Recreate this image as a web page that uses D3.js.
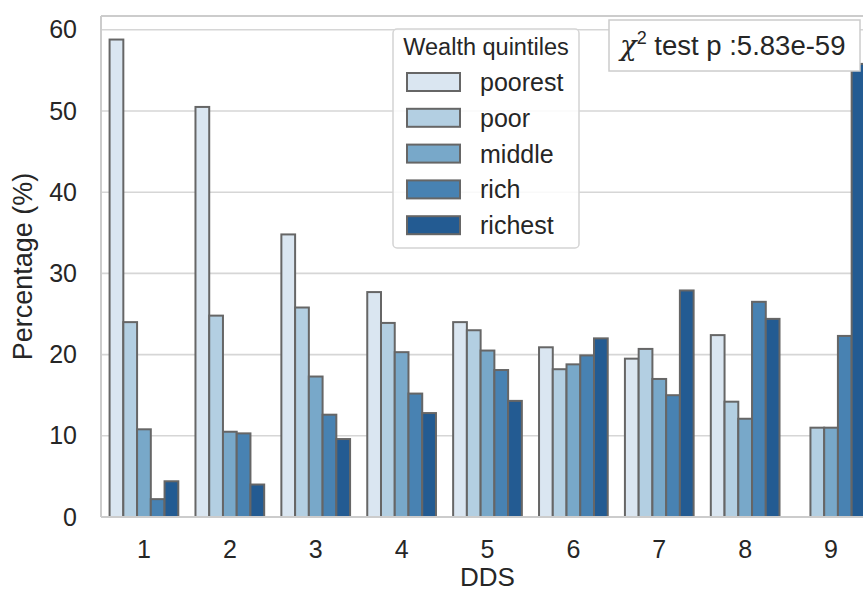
<!DOCTYPE html>
<html>
<head>
<meta charset="utf-8">
<script src="https://cdn.jsdelivr.net/npm/d3@7/dist/d3.min.js"></script>
<style>
  html, body { margin: 0; padding: 0; background: #fff; }
  svg text { font-family: "Liberation Sans", Arial, sans-serif; fill: #262626; }
</style>
</head>
<body>
<svg id="chart" width="863" height="592"></svg>
<script>
// Share of households (%) in each wealth quintile, by dietary diversity score
const dds = ["1", "2", "3", "4", "5", "6", "7", "8", "9"];
const quintiles = ["poorest", "poor", "middle", "rich", "richest"];
const poorest = [58.8, 50.5, 34.8, 27.7, 24.0, 20.9, 19.5, 22.4, null];
const poor    = [24.0, 24.8, 25.8, 23.9, 23.0, 18.2, 20.7, 14.2, 11.0];
const middle  = [10.8, 10.5, 17.3, 20.3, 20.5, 18.8, 17.0, 12.1, 11.0];
const rich    = [2.2, 10.3, 12.6, 15.2, 18.1, 19.9, 15.0, 26.5, 22.3];
const richest = [4.4, 4.0, 9.6, 12.8, 14.3, 22.0, 27.9, 24.4, 55.8];
const yTicks = [0, 10, 20, 30, 40, 50, 60];
const palette = ["#dae6f1", "#b3cfe2", "#78a8c9", "#4882b2", "#235b92"];
const pValueText = ":5.83e-59";

const series = [poorest, poor, middle, rich, richest];
const rows = [];
dds.forEach((d, i) => quintiles.forEach((q, j) => {
  if (series[j][i] != null) rows.push({ dds: d, q, v: series[j][i] });
}));

const svg = d3.select("#chart");
const plotL = 101, plotR = 874, plotT = 16, plotB = 517;

const x = d3.scaleBand().domain(dds).range([plotL, plotR])
  .paddingInner(0.2).paddingOuter(0.1);
const xq = d3.scaleBand().domain(quintiles).range([0, x.bandwidth()]);
const y = d3.scaleLinear().domain([0, 61.7]).range([plotB, plotT]);
const color = d3.scaleOrdinal().domain(quintiles).range(palette);

svg.append("defs").append("clipPath").attr("id", "plot")
  .append("rect").attr("x", plotL).attr("y", plotT)
  .attr("width", plotR - plotL).attr("height", plotB - plotT);

// horizontal grid
svg.append("g").selectAll("line").data(yTicks).join("line")
  .attr("x1", plotL).attr("x2", plotR)
  .attr("y1", d => y(d)).attr("y2", d => y(d))
  .attr("stroke", "#d6d6d6").attr("stroke-width", 1.6);

// bars
svg.append("g").attr("clip-path", "url(#plot)")
  .selectAll("rect").data(rows).join("rect")
  .attr("x", d => x(d.dds) + xq(d.q))
  .attr("width", xq.bandwidth())
  .attr("y", d => y(d.v))
  .attr("height", d => y(0) - y(d.v))
  .attr("fill", d => color(d.q))
  .attr("stroke", "#666666").attr("stroke-width", 2);

// spines
svg.append("g").selectAll("line")
  .data([[plotL, plotT, plotL, plotB], [plotL, plotB, plotR, plotB], [plotL, plotT, plotR, plotT]])
  .join("line")
  .attr("x1", d => d[0]).attr("y1", d => d[1]).attr("x2", d => d[2]).attr("y2", d => d[3])
  .attr("stroke", "#cccccc").attr("stroke-width", 2);

// y tick labels
const yAxis = svg.append("g").attr("transform", `translate(${plotL},0)`)
  .call(d3.axisLeft(y).tickValues(yTicks).tickSize(0).tickPadding(24));
yAxis.select(".domain").remove();
yAxis.selectAll("text").style("font-size", "25px").attr("fill", "#262626")
  .style("font-family", '"Liberation Sans", Arial, sans-serif');

// x tick labels
const xAxis = svg.append("g").attr("transform", `translate(0,${plotB})`)
  .call(d3.axisBottom(x).tickSize(0).tickPadding(23));
xAxis.select(".domain").remove();
xAxis.selectAll("text").style("font-size", "25px").attr("fill", "#262626")
  .style("font-family", '"Liberation Sans", Arial, sans-serif');

// axis titles
svg.append("text").attr("x", (plotL + plotR) / 2).attr("y", 586)
  .attr("text-anchor", "middle").style("font-size", "26px").text("DDS");
svg.append("text").attr("transform", `translate(32,${(plotT + plotB) / 2}) rotate(-90)`)
  .attr("text-anchor", "middle").style("font-size", "27px").text("Percentage (%)");

// legend
const lg = svg.append("g");
lg.append("rect").attr("x", 393).attr("y", 29).attr("width", 186).attr("height", 219)
  .attr("rx", 4).attr("fill", "#ffffff").attr("fill-opacity", 0.85)
  .attr("stroke", "#d4d4d4").attr("stroke-width", 1.5);
lg.append("text").attr("x", 486).attr("y", 55).attr("text-anchor", "middle")
  .style("font-size", "23.5px").text("Wealth quintiles");
const item = lg.selectAll("g.item").data(quintiles).join("g").attr("class", "item")
  .attr("transform", (d, i) => `translate(0,${82 + i * 35.8})`);
item.append("rect").attr("x", 407).attr("y", -9).attr("width", 53).attr("height", 18)
  .attr("fill", d => color(d)).attr("stroke", "#666666").attr("stroke-width", 2);
item.append("text").attr("x", 480).attr("y", 9).style("font-size", "25px").text(d => d);

// chi-square annotation
const an = svg.append("g");
an.append("rect").attr("x", 609).attr("y", 20).attr("width", 251).attr("height", 51)
  .attr("fill", "#ffffff").attr("stroke", "#cccccc").attr("stroke-width", 1.5);
const t = an.append("text").attr("x", 620).attr("y", 55).style("font-size", "27.5px");
t.append("tspan").style("font-family", '"DejaVu Serif", serif').style("font-style", "italic").text("χ");
t.append("tspan").attr("dy", -11).style("font-size", "18px").text("2");
t.append("tspan").attr("dy", 11).text(" test p " + pValueText);
</script>
</body>
</html>
